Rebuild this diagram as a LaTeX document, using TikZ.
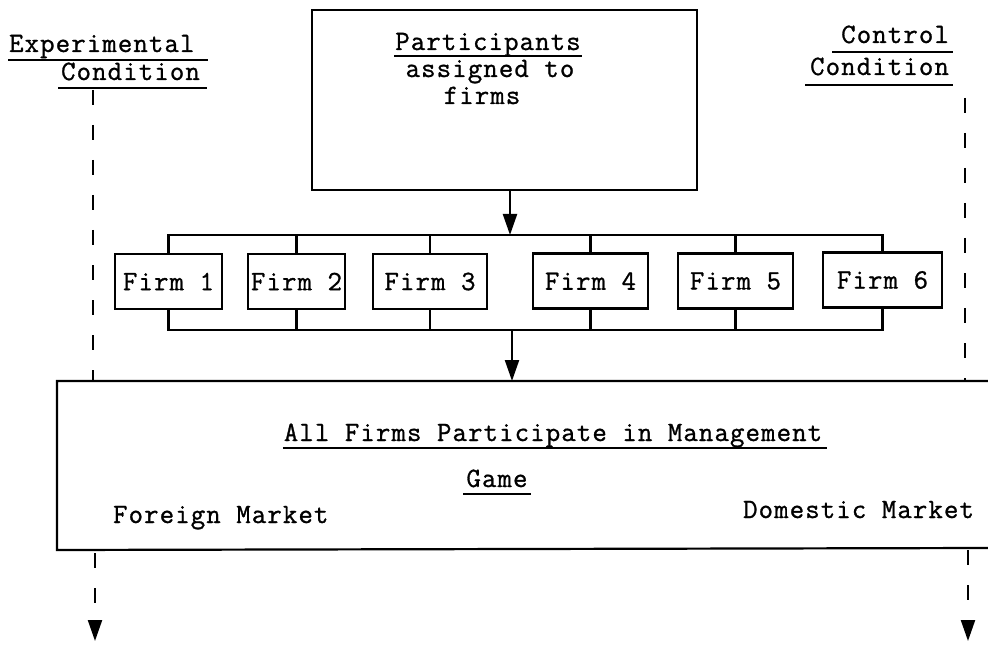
\documentclass[tikz,border=0pt]{standalone}
\usepackage{fontspec}
\newfontfamily\typewriter{Latin Modern Mono}[LetterSpace=4,FakeBold=1]
\usetikzlibrary{arrows.meta}
\begin{document}
\begin{tikzpicture}[x=1pt,y=-1pt,
  font=\fontsize{28}{33}\selectfont\typewriter,
  line width=2.2pt,
  lbl/.style={inner sep=0pt},
  firm/.style={draw, minimum height=55pt, inner xsep=3pt, inner ysep=0pt},
  flow/.style={-{Triangle[length=21pt,width=14pt]}},
  cond/.style={dash pattern=on 15pt off 20pt},
  uline/.style={line width=1.8pt}
]
\useasboundingbox (0,0) rectangle (988,647);

% condition headings
\node[lbl, anchor=base west] (exp)  at (8,52)  {Experimental};
\node[lbl, anchor=base west] (expc) at (60,80) {Condition};
\draw[uline] ([yshift=-8pt]exp.base west)  -- ([xshift=12pt,yshift=-8pt]exp.base east);
\draw[uline] ([xshift=-2pt,yshift=-8pt]expc.base west) -- ([xshift=6pt,yshift=-8pt]expc.base east);

\node[lbl, anchor=base east] (ctl)  at (950,43) {Control};
\node[lbl, anchor=base east] (ctlc) at (950,75) {Condition};
\draw[uline] ([xshift=-8pt,yshift=-9pt]ctl.base west) -- ([xshift=3pt,yshift=-9pt]ctl.base east);
\draw[uline] ([xshift=-4pt,yshift=-10pt]ctlc.base west) -- ([xshift=3pt,yshift=-10pt]ctlc.base east);

% participants box
\node[draw, minimum width=385pt, minimum height=180pt, inner sep=0pt] (pbox) at (504.5,100) {};
\node[lbl, anchor=base] (p1) at (488,50) {Participants};
\node[lbl, anchor=base] (p2) at (490,77) {assigned to};
\node[lbl, anchor=base] (p3) at (482,104) {firms};
\draw[uline] ([yshift=-6pt]p1.base west) -- ([yshift=-6pt]p1.base east);

% firms
\node[firm, minimum width=107pt] (f1) at (168.5,281.5) {Firm 1};
\node[firm, minimum width=97pt]  (f2) at (296.5,281.5) {Firm 2};
\node[firm, minimum width=114pt] (f3) at (430,281.5)   {Firm 3};
\node[firm, minimum width=115pt] (f4) at (590.5,281)   {Firm 4};
\node[firm, minimum width=115pt] (f5) at (735.5,281)   {Firm 5};
\node[firm, minimum width=119pt] (f6) at (882.5,280)   {Firm 6};

\coordinate (bt) at (0,235);
\coordinate (bb) at (0,330);

% distribution bus
\draw (f1.north) |- (f6.north |- bt) -- (f6.north);
\foreach \f in {f2,f3,f4,f5} \draw (\f.north) -- (\f.north |- bt);
\draw[flow] ([xshift=5.5pt]pbox.south) -- ([xshift=5.5pt]pbox.south |- bt);

% collection bus
\draw (f1.south) |- (f6.south |- bb) -- (f6.south);
\foreach \f in {f2,f3,f4,f5} \draw (\f.south) -- (\f.south |- bb);

% management game box (open on the right)
\coordinate (gtl) at (57,381);
\coordinate (gbl) at (57,550);
\coordinate (gtr) at (988,381);
\coordinate (gbr) at (988,548);
\draw (gtr) -- (gtl) -- (gbl) -- (gbr);

\coordinate (m2) at (512,330);
\draw[flow] (m2) -- (m2 |- gtl);

\node[lbl, anchor=base] (allf) at (553,441) {All Firms Participate in Management};
\draw[uline] ([yshift=-7pt]allf.base west) -- ([xshift=4pt,yshift=-7pt]allf.base east);
\node[lbl, anchor=base] (game) at (497,487) {Game};
\draw[uline] ([xshift=-2pt,yshift=-7pt]game.base west) -- ([xshift=2pt,yshift=-7pt]game.base east);
\node[lbl, anchor=base west] (fm) at (112,523) {Foreign Market};
\node[lbl, anchor=base west] (dm) at (742,518) {Domestic Market};

% condition flows
\coordinate (lt) at (93,90);
\coordinate (rt) at (965,98);
\draw[cond] (lt) -- (lt |- gtl);
\draw[cond] (rt) -- (rt |- gtr);

\coordinate (lb) at (95,553);
\coordinate (lend) at (95,641);
\coordinate (rb) at (968,550);
\coordinate (rend) at (968,641);
\draw[cond, flow] (lb) -- (lend);
\draw[cond, flow] (rb) -- (rend);
\end{tikzpicture}
\end{document}
